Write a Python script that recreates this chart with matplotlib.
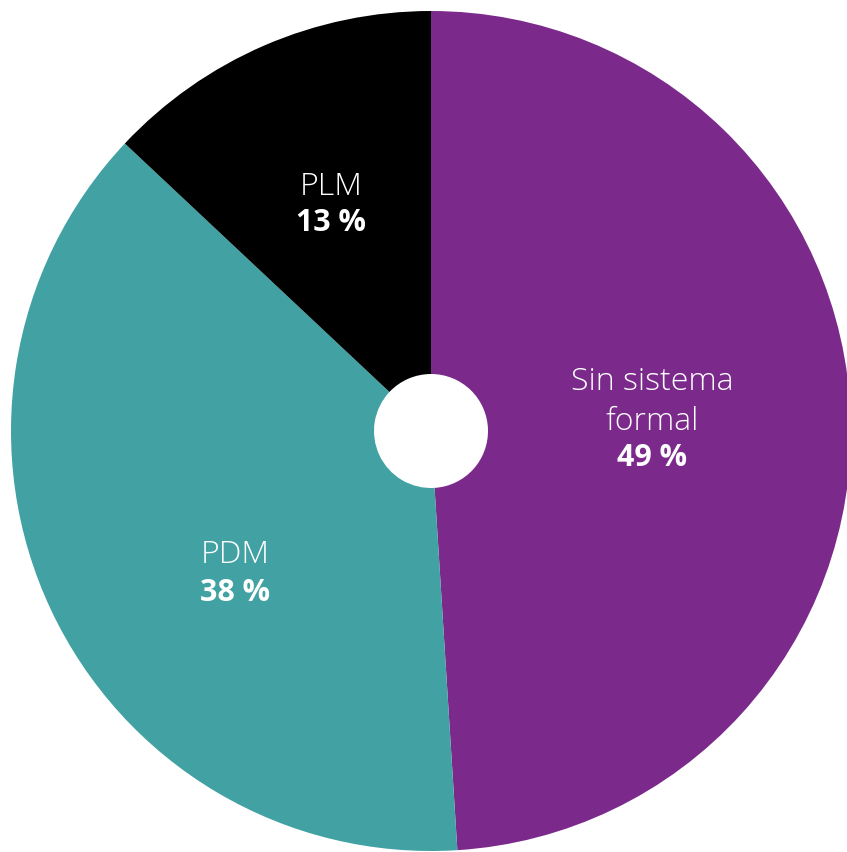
import matplotlib
matplotlib.use("Agg")
import matplotlib.pyplot as plt

# Share of companies by product-data system
categories = ["Sin sistema\nformal", "PDM", "PLM"]
shares = [49, 38, 13]
colors = ["#7B2A8C", "#41A1A3", "#000000"]

W, H = 847, 852
cx, cy, R = 431, 431, 420  # pie centre and radius in pixels

fig = plt.figure(figsize=(W / 100, H / 100), dpi=100)
ax = fig.add_axes([0, 0, 1, 1])

wedges, _ = ax.pie(
    shares,
    colors=colors,
    startangle=90,
    counterclock=False,
    radius=1.0,
    wedgeprops=dict(width=1 - 57 / R, linewidth=0),
)

ax.set_xlim(-cx / R, (W - cx) / R)
ax.set_ylim(-(H - cy) / R, cy / R)
ax.set_aspect("equal", adjustable="datalim")
ax.axis("off")


def px(x, y):
    return (x - cx) / R, (cy - y) / R


# pixel positions of the name text (centre) and the percentage line
label_pos = {
    "Sin sistema\nformal": (652, 402),
    "PDM": (235, 555),
    "PLM": (331, 187),
}
pct_pos = {
    "Sin sistema\nformal": (652, 458),
    "PDM": (235, 593),
    "PLM": (331, 223),
}

family = ["Open Sans", "DejaVu Sans"]
for cat, val in zip(categories, shares):
    x, y = px(*label_pos[cat])
    ax.text(x, y, cat, ha="center", va="center", color="white",
            fontsize=23, fontweight="light", family=family, linespacing=1.3)
    x, y = px(*pct_pos[cat])
    ax.text(x, y, f"{val} %", ha="center", va="center", color="white",
            fontsize=22, fontweight="bold", family=family)

fig.savefig("out.png", dpi=100)
